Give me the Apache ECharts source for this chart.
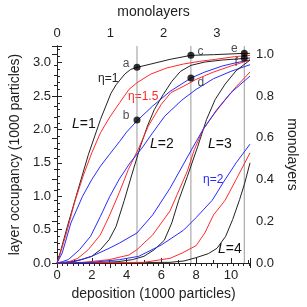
<!DOCTYPE html>
<html><head><meta charset="utf-8">
<script src="https://cdn.jsdelivr.net/npm/echarts@6/dist/echarts.min.js"></script>
<style>html,body{margin:0;padding:0;background:#fff}#c{width:307px;height:307px}</style>
</head><body><div id="c"></div>
<script>
// deposition (1000 particles) vs layer occupancy (1000 particles)
const k1 = [[0,0],[0.2,0.17],[0.6,0.55],[1.1,1.0],[1.8,1.62],[2.5,2.15],[3.1,2.54],[3.4,2.67],[3.9,2.83],[4.24,2.9],[4.6,2.93],[5.4,2.98],[6.5,3.05],[7.7,3.11],[9,3.12],[10.77,3.14],[11.1,3.14]];
const r1 = [[0,0],[0.2,0.15],[0.6,0.5],[1.0,0.9],[1.5,1.3],[2.0,1.65],[2.5,1.95],[3.0,2.17],[3.6,2.4],[4.14,2.6],[4.6,2.7],[5.4,2.83],[6.3,2.92],[7.27,2.98],[8.2,3.02],[9.12,3.05],[10.2,3.09],[11.1,3.11]];
const b1 = [[0,0],[0.3,0.15],[0.8,0.6],[1.47,1.0],[2.0,1.25],[2.5,1.45],[3.0,1.62],[3.6,1.82],[4.0,1.96],[4.6,2.13],[5.5,2.35],[6.5,2.57],[7.7,2.77],[8.5,2.86],[9.5,2.95],[10.3,3.0],[11.1,3.04]];
const k2 = [[0,0],[0.8,0.02],[1.4,0.05],[2.0,0.1],[2.5,0.2],[3.0,0.35],[3.4,0.55],[3.87,0.94],[4.3,1.32],[4.8,1.75],[5.2,2.05],[5.6,2.3],[6.1,2.52],[6.6,2.72],[7.1,2.87],[7.7,2.96],[8.5,3.01],[9.5,3.04],[11.1,3.07]];
const r2 = [[0,0],[0.6,0.01],[1.2,0.07],[1.8,0.2],[2.49,0.42],[3.0,0.7],[3.59,1.06],[4.1,1.4],[4.7,1.72],[5.25,2.05],[5.98,2.37],[6.54,2.55],[7.3,2.65],[8.0,2.75],[9.0,2.86],[10.0,2.95],[11.1,3.04]];
const b2 = [[0,0],[0.3,0.02],[0.65,0.05],[1.3,0.2],[1.93,0.4],[2.5,0.7],[3.04,1.0],[3.59,1.26],[4.2,1.5],[4.88,1.72],[5.5,1.95],[6.2,2.2],[7.18,2.44],[8.0,2.6],[9.0,2.76],[10.0,2.87],[11.1,2.97]];
const k3 = [[0,0],[2.5,0.01],[3.5,0.02],[4.33,0.05],[5.0,0.1],[5.6,0.2],[6.17,0.34],[6.6,0.6],[7.0,0.94],[7.5,1.3],[8.1,1.75],[8.6,2.15],[9.1,2.45],[9.67,2.68],[10.3,2.88],[11.1,3.04]];
const r3 = [[0,0],[1.5,0.01],[3.0,0.05],[4.14,0.12],[4.6,0.2],[5.5,0.42],[6.5,0.78],[7.2,1.2],[7.5,1.38],[7.9,1.7],[8.4,2.0],[9.0,2.22],[9.6,2.42],[10.3,2.64],[11.1,2.86]];
const b3 = [[0,0],[1.0,0.02],[2.0,0.1],[3.0,0.22],[3.6,0.3],[4.6,0.45],[5.5,0.72],[6.5,1.12],[7.7,1.68],[8.4,2.0],[9.2,2.3],[10.0,2.55],[11.1,2.8]];
const k4 = [[0,0],[6.5,0.01],[7.3,0.03],[8.0,0.08],[8.7,0.14],[9.2,0.22],[9.7,0.4],[10.1,0.65],[10.5,0.95],[10.8,1.2],[11.1,1.5]];
const r4 = [[0,0],[5.0,0.01],[6.5,0.07],[7.2,0.15],[8.0,0.26],[8.5,0.45],[9.0,0.72],[9.67,0.94],[10.3,1.25],[11.1,1.65]];
const b4 = [[0,0],[2.0,0.01],[3.59,0.05],[4.7,0.1],[6.0,0.27],[7.27,0.49],[8.0,0.68],[8.93,0.94],[9.57,1.21],[10.3,1.5],[11.1,1.78]];
// marked points
const pointNames = ['a','b','c','d','e','f'];
const pointValues = [[4.6,2.93],[4.6,2.14],[7.7,3.11],[7.7,2.77],[10.77,3.14],[10.77,3.07]];
// vertical guide lines (1.5, 2.5, 3.5 monolayers)
const guideX = [4.6, 7.7, 10.77];
const xMax = 11.1, yMax = 3.25, topMax = 3.62, rightMax = 1.04;

const BLACK = '#222', RED = '#ff2a2a', BLUE = '#2a2aff';
const font = 'Liberation Sans, Arial, sans-serif';
const axisCommon = {
  axisLine: {show: true, lineStyle: {color: '#222', width: 1}},
  axisTick: {show: true, inside: true, length: 5, lineStyle: {color: '#222'}},
  minorTick: {show: true, length: 3, lineStyle: {color: '#222'}},
  splitLine: {show: false},
  axisLabel: {color: '#222', fontSize: 13, fontFamily: font, showMaxLabel: false, margin: 6},
  nameTextStyle: {color: '#222', fontSize: 14, fontFamily: font}
};
function curve(data, color) {
  return {type: 'line', data: data, symbol: 'none', lineStyle: {color: color, width: 1}, silent: true, z: 3};
}
const series = [];
guideX.forEach(x => series.push({type: 'line', data: [[x, 0], [x, yMax]], symbol: 'none', lineStyle: {color: '#999', width: 1}, z: 1}));
[[k1,BLACK],[r1,RED],[b1,BLUE],[k2,BLACK],[r2,RED],[b2,BLUE],[k3,BLACK],[r3,RED],[b3,BLUE],[k4,BLACK],[r4,RED],[b4,BLUE]].forEach(p => series.push(curve(p[0], p[1])));
const labelPos = {a: ['left', [-1,-4]], b: ['left', [-1,-4]], c: ['right', [0,-4]], d: ['right', [0,5]], e: ['left', [0,-5]], f: ['left', [0,5]]};
series.push({
  type: 'scatter', symbolSize: 7, itemStyle: {color: '#000'}, z: 5,
  data: pointValues.map((v, i) => ({value: v, name: pointNames[i],
    label: {show: true, formatter: pointNames[i], position: labelPos[pointNames[i]][0], offset: labelPos[pointNames[i]][1], distance: 3, color: '#222', fontSize: 12, fontFamily: font}}))
});

const chart = echarts.init(document.getElementById('c'), null, {renderer: 'canvas'});
chart.setOption({
  animation: false,
  grid: {left: 55, right: 51, top: 43, bottom: 44},
  xAxis: [
    Object.assign({}, axisCommon, {type: 'value', position: 'bottom', min: 0, max: xMax, interval: 2,
      minorTick: Object.assign({}, axisCommon.minorTick, {splitNumber: 2}),
      name: 'deposition (1000 particles)', nameLocation: 'middle', nameGap: 23}),
    Object.assign({}, axisCommon, {type: 'value', position: 'top', min: 0, max: topMax, interval: 1,
      minorTick: Object.assign({}, axisCommon.minorTick, {splitNumber: 10}),
      name: 'monolayers', nameLocation: 'middle', nameGap: 27})
  ],
  yAxis: [
    Object.assign({}, axisCommon, {type: 'value', position: 'left', min: 0, max: yMax, interval: 0.5,
      minorTick: Object.assign({}, axisCommon.minorTick, {splitNumber: 5}),
      axisLabel: Object.assign({}, axisCommon.axisLabel, {formatter: v => v.toFixed(1)}),
      name: 'layer occupancy (1000 particles)', nameLocation: 'middle', nameGap: 35}),
    Object.assign({}, axisCommon, {type: 'value', position: 'right', min: 0, max: rightMax, interval: 0.2,
      minorTick: Object.assign({}, axisCommon.minorTick, {splitNumber: 4}),
      axisLabel: Object.assign({}, axisCommon.axisLabel, {formatter: v => v.toFixed(1)}),
      name: 'monolayers', nameLocation: 'middle', nameGap: 34, nameRotate: -90})
  ],
  series: series,
  graphic: [
    {type: 'text', x: 98, y: 73, style: {text: 'η=1', fill: BLACK, font: '12px ' + font}},
    {type: 'text', x: 128, y: 91, style: {text: 'η=1.5', fill: RED, font: '12px ' + font}},
    {type: 'text', x: 203, y: 174, style: {text: 'η=2', fill: BLUE, font: '12px ' + font}},
    {type: 'text', x: 72, y: 117, style: {text: '{i|L}=1', fill: '#111', font: '14px ' + font, rich: {i: {fontStyle: 'italic', fontSize: 14, fontFamily: font}}}},
    {type: 'text', x: 150, y: 137, style: {text: '{i|L}=2', fill: '#111', font: '14px ' + font, rich: {i: {fontStyle: 'italic', fontSize: 14, fontFamily: font}}}},
    {type: 'text', x: 208, y: 137, style: {text: '{i|L}=3', fill: '#111', font: '14px ' + font, rich: {i: {fontStyle: 'italic', fontSize: 14, fontFamily: font}}}},
    {type: 'text', x: 218, y: 242, style: {text: '{i|L}=4', fill: '#111', font: '14px ' + font, rich: {i: {fontStyle: 'italic', fontSize: 14, fontFamily: font}}}}
  ]
});
</script></body></html>
